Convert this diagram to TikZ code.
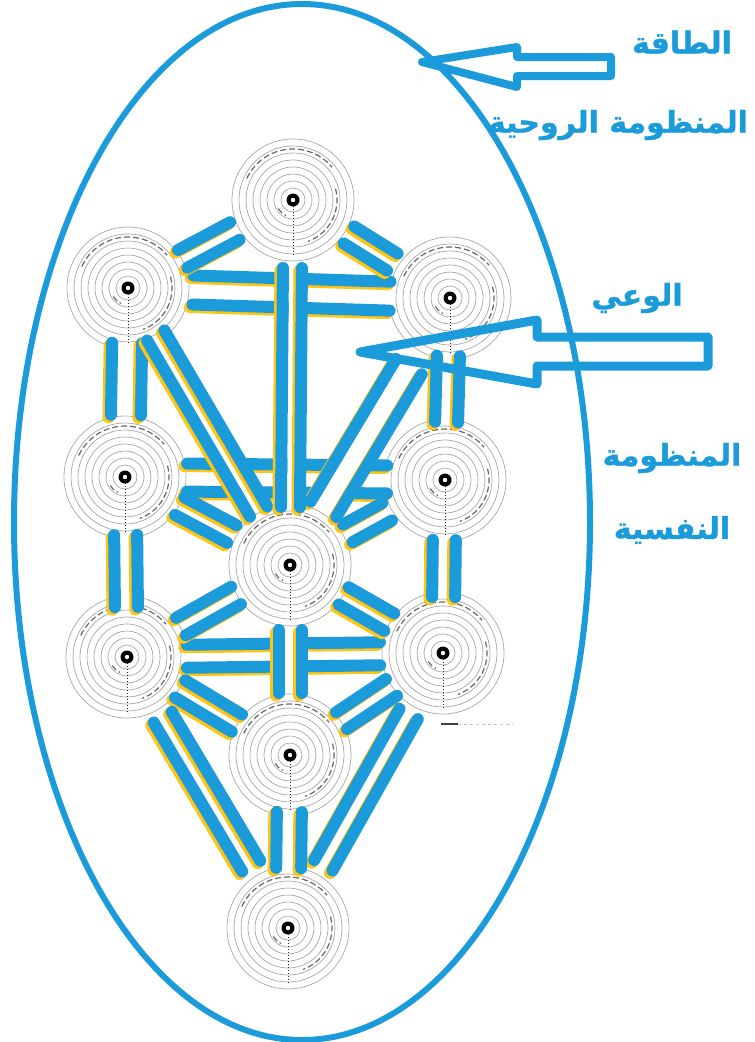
\documentclass[tikz,border=0pt]{standalone}
\usepackage{fontspec}
\usetikzlibrary{calc}
\newfontfamily\arabicfont[Script=Arabic,BoldFeatures={FakeBold=1.2}]{DejaVu Sans}
\TeXXeTstate=1
\definecolor{skyblue}{RGB}{28,155,219}
\definecolor{amber}{RGB}{255,196,20}

% a path of the tree: two parallel bars with a white gap between them
% #1 half gap, #2 #3 sephirot, #4 #5 trim at each end
\newcommand\channel[5][10]{%
  \path ($(#2)!#1pt!90:(#3)$) coordinate (ca)
        ($(#3)!#1pt!-90:(#2)$) coordinate (cb)
        ($(#2)!-#1pt!90:(#3)$) coordinate (cc)
        ($(#3)!-#1pt!-90:(#2)$) coordinate (cd);
  \draw[chan gap,line width={2*#1pt-12pt},shorten <=#4pt,shorten >=#5pt] (#2.center)--(#3.center);
  \foreach \p/\q in {ca/cb,cc/cd}{
    \draw[chan shadow,shorten <=#4pt,shorten >=#5pt] (\p)--(\q);
    \draw[chan line,shorten <=#4pt,shorten >=#5pt] (\p)--(\q);
  }%
}

\begin{document}
\begin{tikzpicture}[x=1pt,y=-1pt,
  sephira/.style={circle,minimum size=122pt,inner sep=0pt},
  ring/.style={gray!70,line width=.7pt},
  spoke/.style={black!85,dotted,line width=1pt},
  swirl/.style={black!60,dash pattern=on 6pt off 3pt,line width=1.2pt},
  chan line/.style={draw=skyblue,line width=12pt,line cap=round},
  chan shadow/.style={draw=amber,line width=12pt,line cap=round,
    transform canvas={shift={(-2.5pt,-2.5pt)}}},
  chan gap/.style={draw=white,line cap=butt},
  hollow arrow/.style={draw=skyblue,line join=round},
  label text/.style={text=skyblue,inner sep=0pt,
    font=\arabicfont\bfseries\fontsize{30}{34}\selectfont}]
  \useasboundingbox (0,0) rectangle (755,1042);

  % sephirot
  \node[sephira] (keter)   at (293,200) {};
  \node[sephira] (chokmah) at (450,298) {};
  \node[sephira] (binah)   at (128,288) {};
  \node[sephira] (chesed)  at (445,480) {};
  \node[sephira] (gevurah) at (125,477) {};
  \node[sephira] (tiferet) at (290,565) {};
  \node[sephira] (netzach) at (443,653) {};
  \node[sephira] (hod)     at (127,657) {};
  \node[sephira] (yesod)   at (290,755) {};
  \node[sephira] (malkuth) at (288,928) {};
  \foreach \s in {keter,chokmah,binah,chesed,gevurah,tiferet,netzach,hod,yesod,malkuth}{
    \foreach \r in {12,19,...,61} \draw[ring] (\s.center) circle (\r);
    \draw[spoke] (\s.center) -- ++(0,56);
    \draw[swirl] ($(\s)+(-155:51)$) arc[start angle=-155,end angle=-40,radius=51];
    \draw[swirl] ($(\s)+(-15:44)$) arc[start angle=-15,end angle=70,radius=44];
    \draw[swirl] ($(\s)+(150:17)$) arc[start angle=150,end angle=115,radius=17];
    \fill[black] (\s.center) circle (6.5);
    \fill[white] (\s.center) circle (2.2);
  }

  % paths
  \channel[14.5]{binah}{chokmah}{65}{60}
  \channel[14]{gevurah}{chesed}{62}{58}
  \channel[11.5]{hod}{netzach}{60}{63}
  \channel[10]{keter}{chokmah}{66}{68}
  \channel[10]{keter}{binah}{66}{62}
  \channel[11.5]{chokmah}{chesed}{58}{58}
  \channel[15]{binah}{gevurah}{55}{62}
  \channel[11.5]{chesed}{netzach}{60}{56}
  \channel[11.5]{gevurah}{hod}{58}{50}
  \channel[10]{chesed}{tiferet}{66}{66}
  \channel[10]{gevurah}{tiferet}{62}{66}
  \channel[10]{netzach}{tiferet}{62}{62}
  \channel[10]{hod}{tiferet}{62}{62}
  \channel[10]{binah}{tiferet}{55}{62}
  \channel[15]{chokmah}{tiferet}{80}{65}
  \channel[9.5]{keter}{tiferet}{68}{58}
  \channel[11.5]{tiferet}{yesod}{65}{62}
  \channel[10]{hod}{yesod}{62}{62}
  \channel[10]{netzach}{yesod}{62}{62}
  \channel[10.5]{hod}{malkuth}{70}{72}
  \channel[10.5]{netzach}{malkuth}{70}{72}
  \channel[12.5]{yesod}{malkuth}{57}{60}

  \draw[black!75,line width=1.5pt] (441,724) -- (458,724);
  \draw[gray!50,dashed] (458,724) -- (513,724);

  % aura
  \draw[skyblue,line width=6pt] (302,522) ellipse [x radius=288,y radius=518];

  % labels and arrows
  \node[label text] (energy) at (682,42) {\beginR الطاقة\endR};
  \node[label text] (spirit) at (618,125) {\beginR المنظومة الروحية\endR};
  \node[label text] (aware)  at (637,298) {\beginR الوعي\endR};
  \node[label text] (psyche) at (672,458) {\beginR المنظومة\endR};
  \node[label text] (soul)   at (672,530) {\beginR النفسية\endR};

  \coordinate (energy tip) at (422,62);
  \coordinate (aware tip) at (360,352);
  \draw[hollow arrow,line width=8pt] (energy tip) -- ++(95,-15) -- ++(0,10)
    -- ++(94,0) -- ++(0,19) -- ++(-94,0) -- ++(0,11) -- cycle;
  \draw[hollow arrow,line width=9pt] (aware tip) -- ++(177,-32) -- ++(0,17)
    -- ++(171,0) -- ++(0,29) -- ++(-171,0) -- ++(0,18) -- cycle;
\end{tikzpicture}
\end{document}
